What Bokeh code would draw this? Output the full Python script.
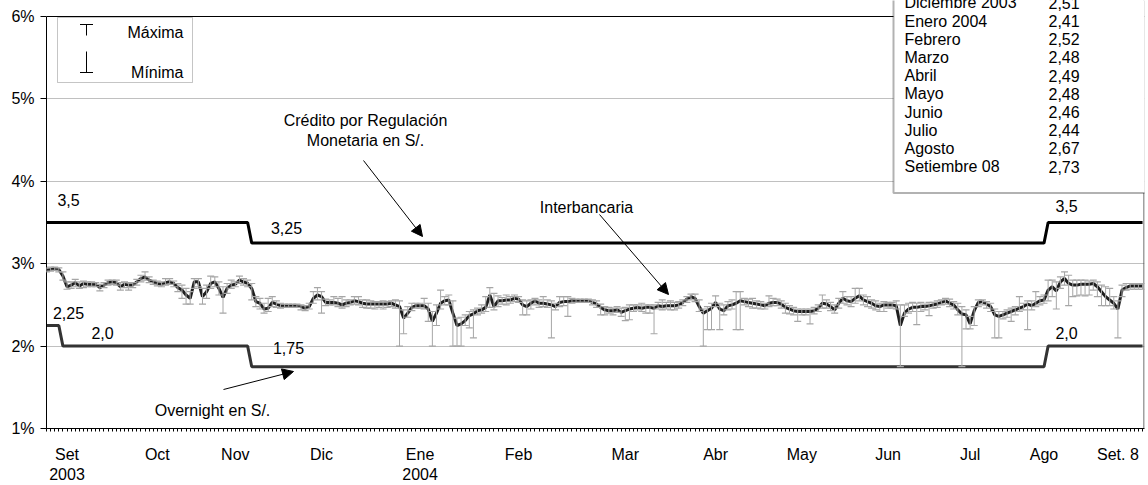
from bokeh.plotting import figure
from bokeh.models import (Range1d, FixedTicker, PrintfTickFormatter, Span, BoxAnnotation,
                          Label, Arrow, NormalHead, ColumnDataSource, Whisker, TeeHead)
from bokeh.core.properties import value
from bokeh.embed import file_html
from bokeh.resources import INLINE

FONT = "Liberation Sans"
FS = "16px"

# ---------------- data (business days, Sep 1 2003 .. Sep 8 2004) ----------------
interbancaria = [
 2.92, 2.93, 2.94, 2.93, 2.85, 2.72, 2.74, 2.77, 2.73, 2.76,
 2.75, 2.75, 2.75, 2.71, 2.74, 2.77, 2.78, 2.77, 2.72, 2.75,
 2.74, 2.74, 2.78, 2.82, 2.84, 2.80, 2.78, 2.76, 2.75, 2.77,
 2.78, 2.76, 2.71, 2.68, 2.62, 2.58, 2.78, 2.78, 2.60, 2.66,
 2.76, 2.78, 2.70, 2.59, 2.70, 2.74, 2.75, 2.80, 2.78, 2.76,
 2.70, 2.54, 2.52, 2.45, 2.46, 2.53, 2.51, 2.49, 2.49, 2.49,
 2.49, 2.49, 2.48, 2.46, 2.48, 2.58, 2.62, 2.60, 2.53, 2.53,
 2.53, 2.52, 2.50, 2.52, 2.53, 2.55, 2.54, 2.52, 2.51, 2.51,
 2.51, 2.51, 2.51, 2.51, 2.52, 2.50, 2.48, 2.34, 2.40, 2.47,
 2.49, 2.49, 2.49, 2.45, 2.30, 2.40, 2.52, 2.55, 2.56, 2.40,
 2.25, 2.27, 2.31, 2.37, 2.39, 2.43, 2.44, 2.47, 2.62, 2.48,
 2.55, 2.55, 2.56, 2.56, 2.58, 2.57, 2.50, 2.48, 2.52, 2.55,
 2.52, 2.52, 2.51, 2.50, 2.48, 2.53, 2.54, 2.54, 2.55, 2.55,
 2.55, 2.55, 2.55, 2.53, 2.51, 2.47, 2.44, 2.43, 2.43, 2.44,
 2.41, 2.43, 2.45, 2.46, 2.47, 2.46, 2.47, 2.47, 2.46, 2.49,
 2.48, 2.49, 2.49, 2.49, 2.50, 2.53, 2.57, 2.60, 2.58, 2.48,
 2.40, 2.43, 2.46, 2.53, 2.45, 2.43, 2.49, 2.50, 2.52, 2.55,
 2.54, 2.53, 2.52, 2.51, 2.50, 2.49, 2.52, 2.53, 2.53, 2.51,
 2.47, 2.45, 2.43, 2.42, 2.42, 2.42, 2.42, 2.43, 2.46, 2.52,
 2.51, 2.48, 2.44, 2.52, 2.58, 2.55, 2.54, 2.58, 2.61, 2.56,
 2.54, 2.52, 2.49, 2.48, 2.50, 2.50, 2.50, 2.49, 2.25, 2.40,
 2.45, 2.47, 2.47, 2.48, 2.48, 2.49, 2.50, 2.51, 2.53, 2.55,
 2.52, 2.50, 2.44, 2.39, 2.38, 2.27, 2.43, 2.53, 2.54, 2.51,
 2.48, 2.38, 2.36, 2.38, 2.40, 2.42, 2.44, 2.46, 2.48, 2.51,
 2.49, 2.52, 2.55, 2.56, 2.68, 2.72, 2.67, 2.78, 2.82, 2.76,
 2.74, 2.74, 2.75, 2.75, 2.75, 2.76, 2.72, 2.66, 2.60, 2.56,
 2.52, 2.45, 2.68, 2.71, 2.73, 2.73, 2.73, 2.73,
]
maxima = [
 2.95, 2.96, 2.96, 2.95, 2.90, 2.78, 2.78, 2.81, 2.78, 2.79,
 2.78, 2.78, 2.77, 2.75, 2.77, 2.80, 2.80, 2.80, 2.77, 2.78,
 2.77, 2.77, 2.81, 2.86, 2.90, 2.84, 2.80, 2.79, 2.78, 2.82,
 2.82, 2.79, 2.76, 2.74, 2.70, 2.66, 2.82, 2.82, 2.70, 2.74,
 2.85, 2.84, 2.78, 2.72, 2.76, 2.80, 2.78, 2.85, 2.82, 2.80,
 2.76, 2.60, 2.58, 2.52, 2.58, 2.60, 2.55, 2.52, 2.51, 2.51,
 2.51, 2.51, 2.50, 2.49, 2.52, 2.66, 2.71, 2.66, 2.57, 2.56,
 2.60, 2.58, 2.60, 2.56, 2.56, 2.60, 2.60, 2.56, 2.56, 2.55,
 2.54, 2.54, 2.55, 2.54, 2.55, 2.56, 2.55, 2.44, 2.48, 2.52,
 2.52, 2.52, 2.58, 2.52, 2.42, 2.50, 2.68, 2.60, 2.62, 2.55,
 2.34, 2.35, 2.38, 2.42, 2.44, 2.46, 2.50, 2.60, 2.71, 2.64,
 2.61, 2.59, 2.62, 2.60, 2.62, 2.60, 2.56, 2.55, 2.56, 2.58,
 2.56, 2.60, 2.56, 2.55, 2.52, 2.60, 2.60, 2.60, 2.58, 2.57,
 2.57, 2.57, 2.57, 2.56, 2.55, 2.51, 2.48, 2.47, 2.46, 2.48,
 2.46, 2.47, 2.50, 2.50, 2.50, 2.52, 2.50, 2.50, 2.50, 2.53,
 2.56, 2.53, 2.55, 2.53, 2.54, 2.56, 2.60, 2.63, 2.63, 2.56,
 2.45, 2.48, 2.52, 2.61, 2.52, 2.50, 2.54, 2.56, 2.66, 2.66,
 2.58, 2.57, 2.58, 2.55, 2.54, 2.52, 2.61, 2.58, 2.57, 2.55,
 2.52, 2.49, 2.47, 2.45, 2.45, 2.45, 2.45, 2.47, 2.50, 2.62,
 2.56, 2.53, 2.50, 2.58, 2.66, 2.60, 2.60, 2.70, 2.70, 2.62,
 2.60, 2.56, 2.55, 2.52, 2.54, 2.53, 2.53, 2.55, 2.50, 2.50,
 2.52, 2.53, 2.52, 2.53, 2.51, 2.53, 2.53, 2.55, 2.56, 2.58,
 2.57, 2.54, 2.52, 2.48, 2.44, 2.36, 2.48, 2.56, 2.56, 2.54,
 2.52, 2.45, 2.42, 2.42, 2.44, 2.46, 2.48, 2.60, 2.52, 2.55,
 2.55, 2.66, 2.60, 2.62, 2.80, 2.80, 2.78, 2.84, 2.90, 2.86,
 2.80, 2.80, 2.80, 2.80, 2.79, 2.80, 2.78, 2.74, 2.72, 2.70,
 2.60, 2.55, 2.74, 2.76, 2.76, 2.76, 2.76, 2.76,
]
minima = [
 2.90, 2.91, 2.92, 2.90, 2.80, 2.69, 2.70, 2.72, 2.70, 2.71,
 2.72, 2.72, 2.72, 2.67, 2.71, 2.74, 2.75, 2.74, 2.68, 2.71,
 2.68, 2.71, 2.74, 2.78, 2.80, 2.77, 2.75, 2.73, 2.72, 2.74,
 2.75, 2.72, 2.66, 2.58, 2.51, 2.51, 2.70, 2.72, 2.51, 2.58,
 2.70, 2.72, 2.62, 2.40, 2.64, 2.70, 2.72, 2.76, 2.74, 2.72,
 2.56, 2.48, 2.45, 2.40, 2.42, 2.48, 2.47, 2.46, 2.47, 2.47,
 2.47, 2.47, 2.44, 2.43, 2.45, 2.52, 2.56, 2.40, 2.49, 2.50,
 2.50, 2.48, 2.46, 2.48, 2.50, 2.51, 2.50, 2.47, 2.46, 2.46,
 2.45, 2.47, 2.45, 2.47, 2.48, 2.46, 2.00, 2.15, 2.35, 2.43,
 2.46, 2.46, 2.45, 2.30, 2.00, 2.25, 2.45, 2.50, 2.50, 2.00,
 2.00, 2.00, 2.25, 2.22, 2.10, 2.38, 2.40, 2.42, 2.47, 2.44,
 2.48, 2.51, 2.50, 2.52, 2.54, 2.53, 2.38, 2.38, 2.45, 2.50,
 2.47, 2.48, 2.47, 2.10, 2.44, 2.48, 2.49, 2.36, 2.52, 2.53,
 2.53, 2.53, 2.53, 2.50, 2.47, 2.38, 2.38, 2.40, 2.38, 2.41,
 2.36, 2.31, 2.32, 2.42, 2.44, 2.42, 2.40, 2.40, 2.15, 2.45,
 2.44, 2.45, 2.44, 2.44, 2.46, 2.49, 2.53, 2.56, 2.54, 2.42,
 2.00, 2.20, 2.20, 2.48, 2.20, 2.38, 2.44, 2.45, 2.20, 2.20,
 2.50, 2.48, 2.46, 2.46, 2.45, 2.45, 2.48, 2.49, 2.49, 2.46,
 2.40, 2.39, 2.38, 2.30, 2.38, 2.38, 2.27, 2.39, 2.42, 2.46,
 2.46, 2.43, 2.40, 2.46, 2.52, 2.50, 2.48, 2.52, 2.55, 2.50,
 2.48, 2.46, 2.44, 2.42, 2.42, 2.46, 2.46, 2.45, 1.75, 2.36,
 2.40, 2.42, 2.26, 2.42, 2.44, 2.37, 2.46, 2.47, 2.50, 2.51,
 2.48, 2.45, 2.38, 1.75, 2.21, 2.21, 2.25, 2.48, 2.50, 2.46,
 2.42, 2.10, 2.10, 2.33, 2.35, 2.30, 2.38, 2.42, 2.44, 2.20,
 2.44, 2.48, 2.50, 2.52, 2.55, 2.60, 2.45, 2.70, 2.74, 2.49,
 2.60, 2.61, 2.62, 2.61, 2.62, 2.68, 2.60, 2.49, 2.49, 2.49,
 2.45, 2.10, 2.60, 2.68, 2.69, 2.69, 2.69, 2.69,
]
dias = list(range(len(interbancaria)))

credito_dias = [0, 49, 50, 243, 244, 267]
credito_tasa = [3.5, 3.5, 3.25, 3.25, 3.5, 3.5]
overnight_dias = [0, 3, 4, 49, 50, 243, 244, 267]
overnight_tasa = [2.25, 2.25, 2.0, 2.0, 1.75, 1.75, 2.0, 2.0]

meses_eje = {5: "Set\n2003", 27: "Oct", 46: "Nov", 67: "Dic", 91: "Ene\n2004",
             115: "Feb", 141: "Mar", 163: "Abr", 184: "May", 205: "Jun",
             225: "Jul", 243: "Ago", 261: "Set. 8"}

tabla_meses = ["Diciembre 2003", "Enero 2004", "Febrero", "Marzo", "Abril",
               "Mayo", "Junio", "Julio", "Agosto", "Setiembre 08"]
tabla_prom = ["2,51", "2,41", "2,52", "2,48", "2,49", "2,48", "2,46", "2,44",
              "2,67", "2,73"]

# ---------------- layout helpers (page pixel -> data) ----------------
X0, PXD = 46.0, 4.105       # page x of day 0, pixels per day
Y6, PXU = 16.0, 82.4        # page y of 6 %, pixels per percentage point
def px(X):
    return (X - X0) / PXD
def py(Y):
    return 6 - (Y - Y6) / PXU

p = figure(width=1148, height=485, output_backend="svg", toolbar_location=None,
           x_range=Range1d(0, px(1144)), y_range=Range1d(1, py(0)),
           min_border_left=46, min_border_right=4, min_border_top=0,
           min_border_bottom=57)
p.outline_line_color = None
p.background_fill_color = "white"
p.border_fill_color = "white"

# axes
p.yaxis.ticker = FixedTicker(ticks=[1, 2, 3, 4, 5, 6])
p.yaxis.formatter = PrintfTickFormatter(format="%d%%")
p.yaxis.bounds = (1, 6)
p.yaxis.major_tick_out = 6
p.yaxis.major_tick_in = 0
p.yaxis.minor_tick_out = 0
p.yaxis.minor_tick_in = 0
p.yaxis.major_label_standoff = 6
p.yaxis.axis_line_color = "black"
p.yaxis.major_tick_line_color = "black"

p.xaxis.ticker = FixedTicker(ticks=dias)
ov = {i: "" for i in dias}
ov.update(meses_eje)
p.xaxis.major_label_overrides = ov
p.xaxis.major_tick_out = 3
p.xaxis.major_tick_in = 0
p.xaxis.minor_tick_out = 0
p.xaxis.major_label_standoff = 14
p.xaxis.axis_line_color = "black"
p.xaxis.major_tick_line_color = "black"
for ax in (p.xaxis, p.yaxis):
    ax.major_label_text_font = FONT
    ax.major_label_text_font_size = FS
    ax.major_label_text_color = "black"

p.xgrid.visible = False
p.ygrid.ticker = FixedTicker(ticks=[2, 3, 4, 5])
p.ygrid.grid_line_color = "#c0c0c0"
p.ygrid.grid_line_width = 1

# frame borders (top at 6 %, right side)
p.add_layout(Span(location=6, dimension="width", line_color="black", line_width=1))
p.add_layout(Span(location=px(1143.5), dimension="height", line_color="#404040", line_width=1))

# reference rates
p.line(credito_dias, credito_tasa, line_color="black", line_width=3)
p.line(overnight_dias, overnight_tasa, line_color="#333333", line_width=3)

# interbank series + max/min bars (bars drawn over the line, as in the original)
src = ColumnDataSource(dict(x=dias, y=interbancaria, hi=maxima, lo=minima))
p.line("x", "y", source=src, line_color="#1e1e1e", line_width=3)
p.add_layout(Whisker(base="x", upper="hi", lower="lo", source=src,
                     line_color="#a6a6a6", line_width=1, level="annotation",
                     upper_head=TeeHead(size=7, line_color="#a6a6a6", line_width=1.2),
                     lower_head=TeeHead(size=7, line_color="#a6a6a6", line_width=1.2)))

def label(X, Y, text, align="center"):
    p.add_layout(Label(x=px(X), y=py(Y), text=text, text_align=align,
                       text_baseline="middle", text_font=FONT, text_font_size=FS,
                       text_color="black"))

# rate labels
label(68, 199, "3,5")
label(286, 227, "3,25")
label(68, 312, "2,25")
label(102, 332, "2,0")
label(288, 347, "1,75")
label(1066, 205, "3,5")
label(1066, 332, "2,0")

# annotations with arrows
label(365, 120, "Crédito por Regulación")
label(365, 140, "Monetaria en S/.")
label(586, 207, "Interbancaria")
label(212, 410, "Overnight en S/.")

def arrow(Xs, Ys, Xe, Ye):
    p.add_layout(Arrow(end=NormalHead(size=11, fill_color="black", line_color="black"),
                       x_start=px(Xs), y_start=py(Ys), x_end=px(Xe), y_end=py(Ye),
                       line_color="black", line_width=1))

arrow(363, 160, 422, 236)
arrow(599, 214, 668, 294)
arrow(223, 389, 293, 371)

# legend box (Máxima / Mínima)
p.add_layout(BoxAnnotation(left=px(57), right=px(192), top=py(17), bottom=py(82),
                           fill_color="white", fill_alpha=1, line_color="#404040",
                           line_width=1))
lx = px(86)
cw = 6.5 / PXD
p.segment(x0=[lx, lx, lx - cw, lx - cw], y0=[py(24), py(51), py(24), py(72)],
          x1=[lx, lx, lx + cw, lx + cw], y1=[py(35), py(72), py(24), py(72)],
          line_color="black", line_width=1, level="overlay")
label(183, 32, "Máxima", "right")
label(183, 72, "Mínima", "right")

# averages table box (top right)
p.add_layout(BoxAnnotation(left=px(893), right=px(1160), top=py(-20), bottom=py(192.6),
                           fill_color="white", fill_alpha=1, line_color="black",
                           line_width=2))
ys = [py(2.3 + 18.2 * i) for i in range(len(tabla_meses))]
tsrc = ColumnDataSource(dict(y=ys, m=tabla_meses, v=tabla_prom,
                             xm=[px(904)] * len(ys), xv=[px(1048)] * len(ys)))
p.text(x="xm", y="y", text="m", source=tsrc, text_font=value(FONT),
       text_font_size=value(FS), text_baseline="middle", text_align="left",
       text_color="black", level="overlay")
p.text(x="xv", y="y", text="v", source=tsrc, text_font=value(FONT),
       text_font_size=value(FS), text_baseline="middle", text_align="left",
       text_color="black", level="overlay")

open("out.html", "w").write(file_html(p, INLINE))
